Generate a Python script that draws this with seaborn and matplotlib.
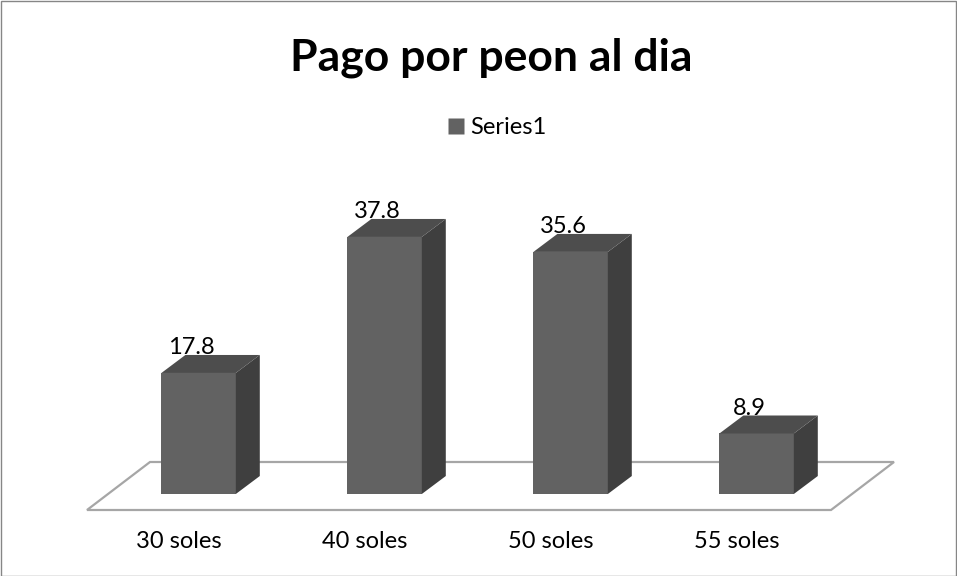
import numpy as np
import seaborn as sns
import matplotlib.pyplot as plt
import matplotlib.transforms as mtransforms
import pandas as pd
from matplotlib.patches import Polygon, Rectangle
from matplotlib.lines import Line2D

categories = ['30 soles', '40 soles', '50 soles', '55 soles']
values = [17.8, 37.8, 35.6, 8.9]
value_labels = ['17.8', '37.8', '35.6', '8.9']
series_name = 'Series1'
title = 'Pago por peon al dia'

front_color = '#626262'
side_color = '#3f3f3f'
top_color = '#4d4d4d'

sns.set_theme(style='white')
plt.rcParams['font.family'] = ['Lato', 'DejaVu Sans']
plt.rcParams['text.color'] = 'black'
plt.rcParams['xtick.color'] = 'black'

fig = plt.figure(figsize=(9.57, 5.76), dpi=100)
W, H = 957, 576

# axes placed in pixel terms
left_px, right_px = 87, 831
bottom_px, top_px = 510, 154
ax = fig.add_axes([left_px / W, (H - bottom_px) / H,
                   (right_px - left_px) / W, (bottom_px - top_px) / H])

df = pd.DataFrame({'cat': categories, 'val': values})
sns.barplot(data=df, x='cat', y='val', color=front_color, width=0.4,
            saturation=1, ax=ax, zorder=3)

xlim = (-0.6, 3.4)
ylim = (-2.35, 50)
ax.set_xlim(*xlim)
ax.set_ylim(*ylim)

# pixel -> data conversion for the depth offsets
px_x = (xlim[1] - xlim[0]) / (right_px - left_px)
px_y = (ylim[1] - ylim[0]) / (bottom_px - top_px)
dx, dy = 24 * px_x, 18 * px_y
fdx, fdy = 63 * px_x, 48 * px_y

# floor
floor = Polygon([(xlim[0], ylim[0]), (xlim[1], ylim[0]),
                 (xlim[1] + fdx, ylim[0] + fdy), (xlim[0] + fdx, ylim[0] + fdy)],
                closed=True, facecolor='white', edgecolor='#a6a6a6',
                linewidth=1.6, clip_on=False, zorder=1)
ax.add_patch(floor)

for bar, lab in zip(ax.patches[:len(values)], value_labels):
    x0 = bar.get_x()
    w = bar.get_width()
    h = bar.get_height()
    x1 = x0 + w
    bar.set_edgecolor('none')
    side = Polygon([(x1, 0), (x1 + dx, dy), (x1 + dx, h + dy), (x1, h)],
                   closed=True, facecolor=side_color, edgecolor='none',
                   clip_on=False, zorder=3)
    top = Polygon([(x0, h), (x1, h), (x1 + dx, h + dy), (x0 + dx, h + dy)],
                  closed=True, facecolor=top_color, edgecolor='none',
                  clip_on=False, zorder=3)
    ax.add_patch(side)
    ax.add_patch(top)
    ax.text(x0 + w / 2 - 0.04, h + dy - 0.5, lab, ha='center', va='bottom',
            fontsize=17, color='black', zorder=5)

ax.set_xlabel('')
ax.set_ylabel('')
ax.set_yticks([])
ax.set_xticks(range(len(categories)))
ax.set_xticklabels(categories, fontsize=17)
ax.tick_params(axis='x', length=0, pad=15)
shift = mtransforms.ScaledTranslation(-20 / 100, 0, fig.dpi_scale_trans)
for t in ax.get_xticklabels():
    t.set_transform(t.get_transform() + shift)
for s in ax.spines.values():
    s.set_visible(False)
ax.patch.set_alpha(0)

fig.text(491 / W, 1 - 58 / H, title, ha='center', va='center',
         fontsize=32, fontweight='bold')

handle = Line2D([], [], marker='s', linestyle='none', markersize=11,
                markerfacecolor=front_color, markeredgecolor='none')
fig.legend([handle], [series_name], loc='center', bbox_to_anchor=(494 / W, 1 - 128 / H),
           frameon=False, handletextpad=0.0, handlelength=1.2,
           prop={'size': 17})

fig.add_artist(Rectangle((0.5 / W, 0.5 / H), 1 - 1.5 / W, 1 - 1.5 / H,
                         transform=fig.transFigure, fill=False,
                         edgecolor='#868686', linewidth=1))

fig.savefig('out.png', dpi=100)
